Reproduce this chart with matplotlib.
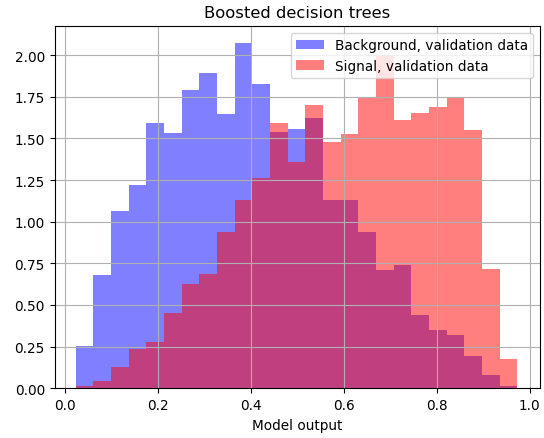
import numpy as np
import matplotlib
matplotlib.use("Agg")
from matplotlib import pyplot as plt

# 25 shared bins over the model output range
bin_lo, bin_hi, n_bins = 0.023, 0.973, 25

background = [0.252, 0.68, 1.066, 1.22, 1.594, 1.532, 1.79, 1.89, 1.644, 2.072,
              1.826, 1.54, 1.556, 1.62, 1.132, 1.132, 0.94, 0.71, 0.742, 0.44,
              0.35, 0.322, 0.192, 0.08, 0.012]
signal = [0.012, 0.046, 0.126, 0.236, 0.276, 0.45, 0.626, 0.686, 0.94, 1.13,
          1.26, 1.594, 1.356, 1.70, 1.476, 1.524, 1.744, 1.996, 1.61, 1.65,
          1.69, 1.744, 1.55, 0.716, 0.176]


def main():
    plt.rcParams['font.size'] = 9.85
    edges = np.linspace(bin_lo, bin_hi, n_bins + 1)
    centers = (edges[:-1] + edges[1:]) / 2

    fig = plt.figure(figsize=(5.44, 4.39), dpi=100)
    ax = fig.add_axes([0.1005, 0.1132, 0.8921, 0.8258])
    ax.hist(centers, bins=edges, weights=background, histtype='stepfilled',
            color='blue', alpha=0.5, label='Background, validation data')
    ax.hist(centers, bins=edges, weights=signal, histtype='stepfilled',
            color='red', alpha=0.5, label='Signal, validation data')
    ax.set_xlim(-0.022, 1.022)
    ax.set_title('Boosted decision trees', fontsize=11.8)
    ax.set_xlabel('Model output')
    ax.grid(True)
    ax.legend(loc='upper right')
    fig.savefig('out.png')


if __name__ == "__main__":
    main()
